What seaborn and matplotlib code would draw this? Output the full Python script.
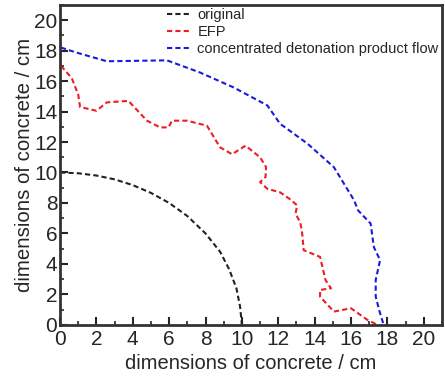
import matplotlib
matplotlib.use("Agg")
import matplotlib.pyplot as plt
import seaborn as sns
from matplotlib.ticker import MultipleLocator

# crater profiles (x, y in cm)
orig_x = [0, 1, 2, 3, 4, 5, 6, 7, 8, 8.8, 9.3, 9.7, 9.9, 10.0]
orig_y = [10.0, 9.95, 9.8, 9.55, 9.17, 8.66, 8.0, 7.14, 6.0, 4.8, 3.65, 2.4, 1.2, 0]

efp_x = [0.05, 0.64, 1.0, 1.1, 2.0, 2.57, 3.76, 4.78, 5.5, 5.97, 6.15, 6.98, 8.08, 8.8, 9.46,
         10.2, 11.0, 11.33, 11.3, 11.0, 11.4, 12.1, 12.7, 13.04, 12.95, 13.2, 13.3, 13.4,
         14.3, 14.6, 14.9, 14.3, 14.3, 15.06, 16.0, 16.9, 17.45]
efp_y = [17.0, 16.2, 15.1, 14.3, 14.05, 14.6, 14.7, 13.4, 12.96, 12.96, 13.4, 13.4, 13.07, 11.65, 11.2,
         11.76, 11.0, 10.35, 9.7, 9.37, 8.93, 8.7, 8.2, 7.84, 7.3, 6.75, 6.2, 4.9,
         4.46, 2.94, 2.4, 2.29, 1.85, 0.87, 1.09, 0.33, 0]

cdpf_x = [0.05, 0.9, 2.57, 5.88, 7.7, 9.55, 11.4, 12.1, 13.6, 15.06, 16.16, 16.4, 17.08,
          17.26, 17.6, 17.36, 17.36, 17.6, 17.8]
cdpf_y = [18.2, 17.87, 17.3, 17.36, 16.56, 15.58, 14.4, 13.2, 11.9, 10.35, 8.2, 7.5, 6.65,
          5.1, 4.25, 2.94, 1.85, 0.76, 0]

labels = ["original", "EFP", "concentrated detonation product flow"]
colors = ["#222222", "#ee1c25", "#1a1adc"]

sns.set_style("white")
plt.rcParams['font.family'] = ['Liberation Sans', 'DejaVu Sans']

fig = plt.figure(figsize=(4.45, 3.76), dpi=100)
ax = fig.add_axes([0.135, 0.136, 0.858, 0.851])

series = [(orig_x, orig_y), (efp_x, efp_y), (cdpf_x, cdpf_y)]
for (xs, ys), lab, c in zip(series, labels, colors):
    sns.lineplot(x=xs, y=ys, ax=ax, sort=False, estimator=None, color=c,
                 linestyle=(0, (2.5, 1.5)), linewidth=1.5, label=lab)

ax.set_xlim(0, 21)
ax.set_ylim(0, 21)
ax.xaxis.set_major_locator(MultipleLocator(2))
ax.yaxis.set_major_locator(MultipleLocator(2))
ax.xaxis.set_minor_locator(MultipleLocator(1))
ax.yaxis.set_minor_locator(MultipleLocator(1))
ax.tick_params(which='major', direction='in', length=6, width=1.5, labelsize=15,
               bottom=True, left=True, top=False, right=False, pad=2)
ax.tick_params(axis='x', which='major', pad=4)
ax.tick_params(which='minor', direction='in', length=3, width=1.2,
               bottom=True, left=True, top=False, right=False)
for s in ax.spines.values():
    s.set_color("#333333")
    s.set_linewidth(2)

ax.set_xlabel("dimensions of concrete / cm", fontsize=14.5, labelpad=3)
ax.set_ylabel("dimensions of concrete / cm", fontsize=14.7, labelpad=0)

ax.legend(loc='upper left', bbox_to_anchor=(0.245, 1.03), frameon=False,
          handlelength=1.6, handletextpad=0.5, labelspacing=0.2, fontsize=10.5)

fig.savefig("out.png", dpi=100)
